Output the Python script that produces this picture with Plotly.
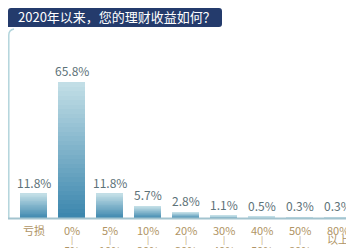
import plotly.graph_objects as go

categories = ["亏损", "0%-5%", "5%-10%", "10%-20%", "20%-30%", "30%-40%", "40%-50%", "50%-80%", "80%以上"]
values = [11.8, 65.8, 11.8, 5.7, 2.8, 1.1, 0.5, 0.3, 0.3]
value_labels = ["11.8%", "65.8%", "11.8%", "5.7%", "2.8%", "1.1%", "0.5%", "0.3%", "0.3%"]
label_line1 = ["亏损", "0%", "5%", "10%", "20%", "30%", "40%", "50%", "80%"]
label_line2 = ["", "|", "|", "|", "|", "|", "|", "|", "以上"]
label_line3 = ["", "5%", "10%", "20%", "30%", "40%", "50%", "80%", ""]
title_text = "2020年以来，您的理财收益如何？"

# the page body adds an 8px margin; figure pixel = window pixel - 8
OFF = 8
W, H = 354 - OFF, 248 - OFF
BASE = 218 - OFF  # figure pixel y of baseline

def X(px):  # px in window coords
    return max(px - OFF, 0) / W

def Y(py):
    return (BASE - max(py - OFF, 0)) / BASE

def hex2rgb(h):
    h = h.lstrip("#")
    return tuple(int(h[i:i + 2], 16) for i in (0, 2, 4))

top_c = hex2rgb("#c4dfe7")
bot_c = hex2rgb("#3a86ad")
N = 30

fig = go.Figure()
for k in range(N):
    t = (k + 0.5) / N
    c = tuple(round(bot_c[j] + (top_c[j] - bot_c[j]) * t) for j in range(3))
    fig.add_trace(go.Bar(
        x=categories,
        y=[v / N for v in values],
        marker=dict(color="rgb(%d,%d,%d)" % c, line=dict(width=0)),
        hoverinfo="skip",
        showlegend=False,
    ))

annotations = []
font_cjk = "Noto Sans CJK SC"
for cat, v, lab in zip(categories, values, value_labels):
    annotations.append(dict(
        x=cat, y=v, xref="x", yref="y", text=lab, showarrow=False,
        yanchor="bottom", yshift=1,
        font=dict(family=font_cjk, size=12, color="#5d7278"),
    ))
for cat, l1, l2, l3 in zip(categories, label_line1, label_line2, label_line3):
    for txt, shift, size in ((l1, -12, 11), (l2, -21, 8 if l2 == "|" else 11), (l3, -32, 11)):
        if txt:
            annotations.append(dict(
                x=cat, y=0, xref="x", yref="paper", text=txt, showarrow=False,
                yanchor="middle", yshift=shift, borderpad=0,
                font=dict(family=font_cjk, size=size, color="#b09464"),
            ))

annotations.append(dict(
    x=X(117), y=Y(16.5), xref="paper", yref="paper", text=title_text,
    showarrow=False, xanchor="center", yanchor="middle",
    font=dict(family=font_cjk, size=13, color="#ffffff"),
))

def rounded_rect(x0, y0, x1, y1, r):
    return ("M %f,%f L %f,%f Q %f,%f %f,%f L %f,%f Q %f,%f %f,%f L %f,%f L %f,%f L %f,%f Q %f,%f %f,%f Z" % (
        X(x0 + r), Y(y0), X(x1 - r), Y(y0), X(x1), Y(y0), X(x1), Y(y0 + r),
        X(x1), Y(y1 - r), X(x1), Y(y1), X(x1 - r), Y(y1),
        X(x0), Y(y1), X(x0), Y(y1 + 2), X(x0), Y(y0 + r),
        X(x0), Y(y0), X(x0 + r), Y(y0)))

shapes = [
    dict(type="path", xref="paper", yref="paper", path=rounded_rect(8, 8, 222, 27, 3),
         fillcolor="#243b6c", line=dict(width=0), layer="above"),
    dict(type="path", xref="paper", yref="paper",
         path="M %f,%f L %f,%f Q %f,%f %f,%f" % (X(8.8), Y(218), X(8.8), Y(35), X(8.8), Y(30), X(14), Y(29)),
         line=dict(color="#b3d5dc", width=1.5)),
    dict(type="line", xref="paper", yref="paper", x0=X(8), x1=1, y0=Y(218.5), y1=Y(218.5),
         line=dict(color="#a3c4cf", width=2)),
]

c0 = 33.5 - OFF  # figure px centre of first bar
fig.update_layout(
    width=W, height=H,
    margin=dict(l=0, r=0, t=0, b=H - BASE, pad=0),
    barmode="stack", bargap=0.27,
    paper_bgcolor="#ffffff", plot_bgcolor="#ffffff",
    xaxis=dict(range=[-c0 / 38, (W - c0) / 38], showticklabels=False,
               showgrid=False, zeroline=False, showline=False, ticks="", fixedrange=True),
    yaxis=dict(range=[0, BASE * 65.8 / 136], visible=False, fixedrange=True),
    annotations=annotations,
    shapes=shapes,
    showlegend=False,
)

fig.write_html("out.html")
